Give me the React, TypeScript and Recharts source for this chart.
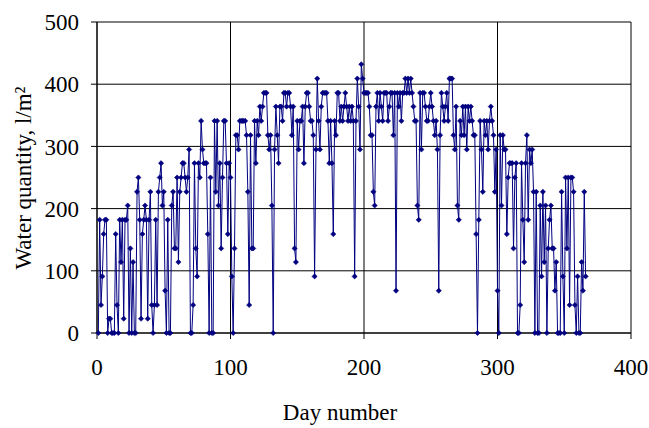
import React from "react";
import { LineChart, Line, XAxis, YAxis, CartesianGrid, Label } from "recharts";

// daily water quantity, l/m², day 1 onwards
const waterByDay: number[] = [
    0, 182, 45, 91, 159, 182, 182, 0, 23, 23, 0, 0, 0, 159, 45, 0, 182, 114, 182, 23,
    182, 182, 205, 0, 136, 0, 114, 0, 0, 227, 250, 182, 23, 159, 182, 205, 182, 23, 182, 227,
    45, 0, 45, 182, 45, 227, 250, 273, 205, 227, 68, 0, 182, 0, 0, 205, 227, 136, 136, 250,
    114, 227, 250, 273, 273, 250, 227, 250, 295, 0, 0, 45, 273, 136, 91, 273, 250, 341, 295, 273,
    273, 273, 159, 0, 250, 0, 0, 341, 227, 341, 205, 273, 136, 250, 341, 341, 273, 159, 273, 250,
    91, 0, 136, 318, 318, 295, 341, 341, 341, 341, 341, 318, 227, 45, 318, 136, 136, 341, 273, 341,
    318, 364, 341, 364, 386, 386, 386, 318, 295, 318, 205, 0, 295, 364, 318, 273, 364, 364, 341, 386,
    386, 364, 386, 386, 364, 318, 364, 136, 114, 341, 295, 341, 341, 364, 273, 364, 386, 386, 364, 341,
    341, 318, 91, 295, 409, 341, 295, 364, 386, 386, 386, 386, 341, 273, 341, 273, 159, 341, 318, 386,
    386, 341, 364, 341, 364, 386, 364, 341, 364, 341, 364, 341, 91, 341, 409, 364, 295, 432, 409, 386,
    386, 386, 386, 364, 318, 318, 227, 205, 364, 386, 341, 386, 364, 341, 386, 386, 386, 341, 364, 386,
    386, 318, 386, 68, 386, 364, 386, 341, 386, 386, 409, 386, 409, 386, 409, 386, 364, 341, 341, 205,
    182, 386, 295, 386, 386, 364, 341, 341, 364, 386, 364, 341, 318, 341, 295, 68, 318, 386, 364, 341,
    364, 386, 341, 409, 409, 409, 318, 295, 364, 205, 182, 341, 318, 364, 318, 364, 295, 364, 341, 364,
    341, 318, 318, 159, 0, 182, 341, 295, 227, 341, 318, 341, 295, 341, 364, 341, 318, 227, 295, 68,
    0, 318, 205, 318, 295, 295, 159, 250, 273, 273, 273, 136, 250, 273, 0, 0, 45, 273, 182, 114,
    273, 318, 182, 295, 273, 295, 227, 0, 227, 0, 0, 205, 91, 227, 114, 205, 0, 136, 182, 205,
    136, 136, 68, 114, 0, 0, 0, 227, 91, 0, 250, 136, 250, 45, 250, 250, 227, 45, 0, 91,
    0, 0, 114, 68, 227, 91,
];

const dayTicks = [0, 100, 200, 300, 400];
const waterTicks = [0, 100, 200, 300, 400, 500];

const data = waterByDay.map((water, i) => ({ day: i + 1, water }));

const font = '"Liberation Serif", "Times New Roman", serif';
const fontSize = 23;
const navy = "#000080";

const Diamond = (props: any) => {
    const { cx, cy, index } = props;
    if (cx == null || cy == null) return <g key={index} />;
    const r = 2.6;
    return (
        <path
            key={index}
            d={`M${cx},${cy - r}L${cx + r},${cy}L${cx},${cy + r}L${cx - r},${cy}Z`}
            fill={navy}
            stroke={navy}
            strokeWidth={0.6}
        />
    );
};

export default function App() {
    return (
        <div style={{ position: "absolute", left: 0, top: 0, background: "#fff" }}>
            <LineChart
                width={649}
                height={428}
                data={data}
                margin={{ top: 22, right: 18, bottom: 0, left: 0 }}
                style={{ fontFamily: font }}
            >
                <CartesianGrid stroke="#000" strokeWidth={1} />
                <XAxis
                    dataKey="day"
                    type="number"
                    domain={[0, 400]}
                    ticks={dayTicks}
                    height={95}
                    stroke="#000"
                    tickSize={6}
                    tickMargin={20}
                    tick={{ fill: "#000", fontSize, fontFamily: font }}
                >
                    <Label
                        content={() => (
                            <text x={340} y={420} textAnchor="middle" fontSize={fontSize} fontFamily={font} fill="#000">
                                Day number
                            </text>
                        )}
                    />
                </XAxis>
                <YAxis
                    type="number"
                    domain={[0, 500]}
                    ticks={waterTicks}
                    width={97}
                    stroke="#000"
                    tickSize={6}
                    tickMargin={12}
                    tick={{ fill: "#000", fontSize, fontFamily: font }}
                >
                    <Label
                        content={() => (
                            <text
                                x={23}
                                y={178}
                                transform="rotate(-90 23 178)"
                                textAnchor="middle"
                                dominantBaseline="central"
                                fontSize={fontSize}
                                fontFamily={font}
                                fill="#000"
                            >
                                Water quantity, l/m²
                            </text>
                        )}
                    />
                </YAxis>
                <Line
                    type="linear"
                    dataKey="water"
                    stroke={navy}
                    strokeWidth={1}
                    dot={Diamond}
                    activeDot={false}
                    isAnimationActive={false}
                />
            </LineChart>
        </div>
    );
}
